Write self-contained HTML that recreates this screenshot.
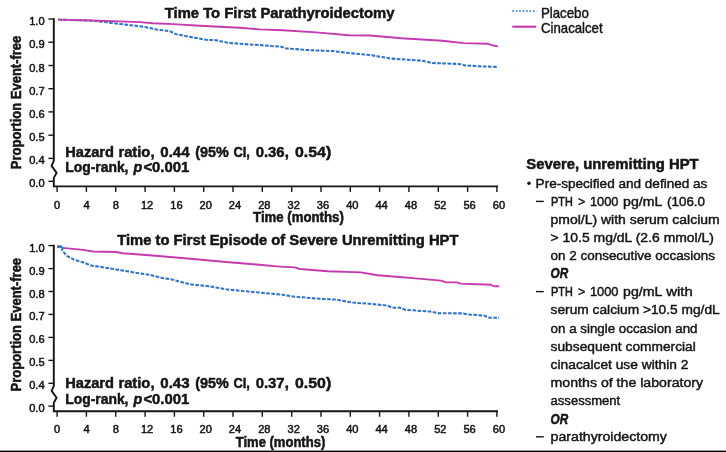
<!DOCTYPE html>
<html><head><meta charset="utf-8"><title>Kaplan-Meier</title>
<style>html,body{margin:0;padding:0;background:#fff;overflow:hidden}svg{display:block}</style>
</head><body>
<svg width="726" height="452" viewBox="0 0 726 452" style="will-change:transform">
<style>
text{font-family:"Liberation Sans",sans-serif;fill:#151515;}
.tk{font-size:11.1px;stroke:#151515;stroke-width:0.5px;}
.b{font-weight:bold;stroke:#151515;stroke-width:0.5px;}
.i{font-weight:bold;font-style:italic;stroke:#151515;stroke-width:0.55px;}
.r{font-size:13.3px;stroke:#151515;stroke-width:0.45px;}
</style>
<defs><filter id="bl" x="-2%" y="-2%" width="104%" height="104%" color-interpolation-filters="sRGB"><feGaussianBlur stdDeviation="0.45"/></filter></defs>
<rect width="726" height="452" fill="#fff"/>
<g filter="url(#bl)">
<path d="M53.8,18.2 L53.8,160.88 L51.599999999999994,165.88 L56.599999999999994,172.88 L53.8,177.88 L53.8,186.4 L498,186.4" fill="none" stroke="#151515" stroke-width="1.9" stroke-linejoin="miter"/>
<line x1="48.4" x2="53.8" y1="19.0" y2="19.0" stroke="#151515" stroke-width="1.4"/>
<text x="44.6" y="25.0" class="tk" text-anchor="end">1.0</text>
<line x1="48.4" x2="53.8" y1="42.2" y2="42.2" stroke="#151515" stroke-width="1.4"/>
<text x="44.6" y="48.2" class="tk" text-anchor="end">0.9</text>
<line x1="48.4" x2="53.8" y1="65.5" y2="65.5" stroke="#151515" stroke-width="1.4"/>
<text x="44.6" y="71.5" class="tk" text-anchor="end">0.8</text>
<line x1="48.4" x2="53.8" y1="88.7" y2="88.7" stroke="#151515" stroke-width="1.4"/>
<text x="44.6" y="94.7" class="tk" text-anchor="end">0.7</text>
<line x1="48.4" x2="53.8" y1="111.9" y2="111.9" stroke="#151515" stroke-width="1.4"/>
<text x="44.6" y="117.9" class="tk" text-anchor="end">0.6</text>
<line x1="48.4" x2="53.8" y1="135.2" y2="135.2" stroke="#151515" stroke-width="1.4"/>
<text x="44.6" y="141.2" class="tk" text-anchor="end">0.5</text>
<line x1="48.4" x2="53.8" y1="158.4" y2="158.4" stroke="#151515" stroke-width="1.4"/>
<text x="44.6" y="164.4" class="tk" text-anchor="end">0.4</text>
<line x1="48.4" x2="53.8" y1="181.3" y2="181.3" stroke="#151515" stroke-width="1.4"/>
<text x="44.6" y="187.3" class="tk" text-anchor="end">0.0</text>
<line x1="57.1" x2="57.1" y1="186.4" y2="191.9" stroke="#151515" stroke-width="1.4"/>
<text x="57.2" y="208.9" class="tk" text-anchor="middle">0</text>
<line x1="86.4" x2="86.4" y1="186.4" y2="191.9" stroke="#151515" stroke-width="1.4"/>
<text x="86.5" y="208.9" class="tk" text-anchor="middle">4</text>
<line x1="115.7" x2="115.7" y1="186.4" y2="191.9" stroke="#151515" stroke-width="1.4"/>
<text x="115.8" y="208.9" class="tk" text-anchor="middle">8</text>
<line x1="145.1" x2="145.1" y1="186.4" y2="191.9" stroke="#151515" stroke-width="1.4"/>
<text x="147.1" y="208.9" class="tk" text-anchor="middle">12</text>
<line x1="174.4" x2="174.4" y1="186.4" y2="191.9" stroke="#151515" stroke-width="1.4"/>
<text x="176.4" y="208.9" class="tk" text-anchor="middle">16</text>
<line x1="203.7" x2="203.7" y1="186.4" y2="191.9" stroke="#151515" stroke-width="1.4"/>
<text x="205.7" y="208.9" class="tk" text-anchor="middle">20</text>
<line x1="233.0" x2="233.0" y1="186.4" y2="191.9" stroke="#151515" stroke-width="1.4"/>
<text x="235.0" y="208.9" class="tk" text-anchor="middle">24</text>
<line x1="262.3" x2="262.3" y1="186.4" y2="191.9" stroke="#151515" stroke-width="1.4"/>
<text x="264.3" y="208.9" class="tk" text-anchor="middle">28</text>
<line x1="291.7" x2="291.7" y1="186.4" y2="191.9" stroke="#151515" stroke-width="1.4"/>
<text x="293.7" y="208.9" class="tk" text-anchor="middle">32</text>
<line x1="321.0" x2="321.0" y1="186.4" y2="191.9" stroke="#151515" stroke-width="1.4"/>
<text x="323.0" y="208.9" class="tk" text-anchor="middle">36</text>
<line x1="350.3" x2="350.3" y1="186.4" y2="191.9" stroke="#151515" stroke-width="1.4"/>
<text x="352.3" y="208.9" class="tk" text-anchor="middle">40</text>
<line x1="379.6" x2="379.6" y1="186.4" y2="191.9" stroke="#151515" stroke-width="1.4"/>
<text x="381.6" y="208.9" class="tk" text-anchor="middle">44</text>
<line x1="408.9" x2="408.9" y1="186.4" y2="191.9" stroke="#151515" stroke-width="1.4"/>
<text x="410.9" y="208.9" class="tk" text-anchor="middle">48</text>
<line x1="438.3" x2="438.3" y1="186.4" y2="191.9" stroke="#151515" stroke-width="1.4"/>
<text x="440.3" y="208.9" class="tk" text-anchor="middle">52</text>
<line x1="467.6" x2="467.6" y1="186.4" y2="191.9" stroke="#151515" stroke-width="1.4"/>
<text x="469.6" y="208.9" class="tk" text-anchor="middle">56</text>
<line x1="496.9" x2="496.9" y1="186.4" y2="191.9" stroke="#151515" stroke-width="1.4"/>
<text x="498.9" y="208.9" class="tk" text-anchor="middle">60</text>
<text x="253.1" y="221.8" class="b" font-size="14" textLength="90.7" lengthAdjust="spacingAndGlyphs">Time (months)</text>
<path d="M53.8,244.79999999999998 L53.8,385.79999999999995 L51.599999999999994,390.79999999999995 L56.599999999999994,397.79999999999995 L53.8,402.79999999999995 L53.8,411.2 L498,411.2" fill="none" stroke="#151515" stroke-width="1.9" stroke-linejoin="miter"/>
<line x1="48.4" x2="53.8" y1="245.6" y2="245.6" stroke="#151515" stroke-width="1.4"/>
<text x="44.6" y="251.6" class="tk" text-anchor="end">1.0</text>
<line x1="48.4" x2="53.8" y1="268.6" y2="268.6" stroke="#151515" stroke-width="1.4"/>
<text x="44.6" y="274.6" class="tk" text-anchor="end">0.9</text>
<line x1="48.4" x2="53.8" y1="291.5" y2="291.5" stroke="#151515" stroke-width="1.4"/>
<text x="44.6" y="297.5" class="tk" text-anchor="end">0.8</text>
<line x1="48.4" x2="53.8" y1="314.4" y2="314.4" stroke="#151515" stroke-width="1.4"/>
<text x="44.6" y="320.4" class="tk" text-anchor="end">0.7</text>
<line x1="48.4" x2="53.8" y1="337.4" y2="337.4" stroke="#151515" stroke-width="1.4"/>
<text x="44.6" y="343.4" class="tk" text-anchor="end">0.6</text>
<line x1="48.4" x2="53.8" y1="360.4" y2="360.4" stroke="#151515" stroke-width="1.4"/>
<text x="44.6" y="366.4" class="tk" text-anchor="end">0.5</text>
<line x1="48.4" x2="53.8" y1="383.3" y2="383.3" stroke="#151515" stroke-width="1.4"/>
<text x="44.6" y="389.3" class="tk" text-anchor="end">0.4</text>
<line x1="48.4" x2="53.8" y1="406.1" y2="406.1" stroke="#151515" stroke-width="1.4"/>
<text x="44.6" y="412.1" class="tk" text-anchor="end">0.0</text>
<line x1="57.1" x2="57.1" y1="411.2" y2="416.7" stroke="#151515" stroke-width="1.4"/>
<text x="57.2" y="433.2" class="tk" text-anchor="middle">0</text>
<line x1="86.4" x2="86.4" y1="411.2" y2="416.7" stroke="#151515" stroke-width="1.4"/>
<text x="86.5" y="433.2" class="tk" text-anchor="middle">4</text>
<line x1="115.7" x2="115.7" y1="411.2" y2="416.7" stroke="#151515" stroke-width="1.4"/>
<text x="115.8" y="433.2" class="tk" text-anchor="middle">8</text>
<line x1="145.1" x2="145.1" y1="411.2" y2="416.7" stroke="#151515" stroke-width="1.4"/>
<text x="147.1" y="433.2" class="tk" text-anchor="middle">12</text>
<line x1="174.4" x2="174.4" y1="411.2" y2="416.7" stroke="#151515" stroke-width="1.4"/>
<text x="176.4" y="433.2" class="tk" text-anchor="middle">16</text>
<line x1="203.7" x2="203.7" y1="411.2" y2="416.7" stroke="#151515" stroke-width="1.4"/>
<text x="205.7" y="433.2" class="tk" text-anchor="middle">20</text>
<line x1="233.0" x2="233.0" y1="411.2" y2="416.7" stroke="#151515" stroke-width="1.4"/>
<text x="235.0" y="433.2" class="tk" text-anchor="middle">24</text>
<line x1="262.3" x2="262.3" y1="411.2" y2="416.7" stroke="#151515" stroke-width="1.4"/>
<text x="264.3" y="433.2" class="tk" text-anchor="middle">28</text>
<line x1="291.7" x2="291.7" y1="411.2" y2="416.7" stroke="#151515" stroke-width="1.4"/>
<text x="293.7" y="433.2" class="tk" text-anchor="middle">32</text>
<line x1="321.0" x2="321.0" y1="411.2" y2="416.7" stroke="#151515" stroke-width="1.4"/>
<text x="323.0" y="433.2" class="tk" text-anchor="middle">36</text>
<line x1="350.3" x2="350.3" y1="411.2" y2="416.7" stroke="#151515" stroke-width="1.4"/>
<text x="352.3" y="433.2" class="tk" text-anchor="middle">40</text>
<line x1="379.6" x2="379.6" y1="411.2" y2="416.7" stroke="#151515" stroke-width="1.4"/>
<text x="381.6" y="433.2" class="tk" text-anchor="middle">44</text>
<line x1="408.9" x2="408.9" y1="411.2" y2="416.7" stroke="#151515" stroke-width="1.4"/>
<text x="410.9" y="433.2" class="tk" text-anchor="middle">48</text>
<line x1="438.3" x2="438.3" y1="411.2" y2="416.7" stroke="#151515" stroke-width="1.4"/>
<text x="440.3" y="433.2" class="tk" text-anchor="middle">52</text>
<line x1="467.6" x2="467.6" y1="411.2" y2="416.7" stroke="#151515" stroke-width="1.4"/>
<text x="469.6" y="433.2" class="tk" text-anchor="middle">56</text>
<line x1="496.9" x2="496.9" y1="411.2" y2="416.7" stroke="#151515" stroke-width="1.4"/>
<text x="498.9" y="433.2" class="tk" text-anchor="middle">60</text>
<text x="235.7" y="447.2" class="b" font-size="14" textLength="89.6" lengthAdjust="spacingAndGlyphs">Time (months)</text>
<path d="M58.3,19.6 L91.0,20.6 L105.0,22.1 L118.9,23.9 L132.6,25.4 L140.0,26.3 L150.0,28.0 L156.5,29.5 L169.8,31.2 L175.5,34.0 L189.6,36.8 L206.1,39.8 L216.0,40.2 L227.6,42.7 L242.5,44.0 L260.0,45.1 L281.4,46.8 L286.4,48.4 L307.9,50.1 L332.6,51.1 L349.2,53.1 L370.0,55.0 L391.0,58.6 L422.0,60.7 L432.3,63.0 L459.2,64.0 L465.4,65.5 L484.0,66.5 L498.0,66.9" fill="none" stroke="#2d73cd" stroke-width="2.05" stroke-dasharray="3.6 1.5"/>
<path d="M58.3,19.6 L91.3,20.5 L118.9,21.4 L140.0,22.1 L153.0,23.3 L173.0,24.1 L200.0,25.7 L239.2,27.7 L260.0,29.4 L283.0,30.2 L316.0,32.4 L349.0,35.2 L370.0,35.5 L401.3,38.2 L442.6,40.7 L463.3,43.1 L488.1,43.8 L494.3,45.8 L498.0,46.4" fill="none" stroke="#c63aae" stroke-width="1.9" stroke-linejoin="round"/>
<path d="M62.4,247.9 L83.0,249.9 L93.0,251.5 L116.1,252.0 L122.7,253.2 L149.2,255.2 L170.0,257.0 L193.0,259.0 L226.1,262.0 L259.2,264.8 L280.0,266.6 L294.8,267.4 L299.8,269.0 L327.9,271.2 L360.9,272.4 L377.4,275.2 L390.0,276.3 L415.8,278.4 L440.9,280.6 L446.2,282.4 L457.0,282.4 L460.6,283.6 L491.0,284.7 L493.7,286.3 L499.0,286.3" fill="none" stroke="#c63aae" stroke-width="1.9" stroke-linejoin="round"/>
<path d="M57.4,246.6 L61.9,246.6 L62.4,250.7 L66.5,255.7 L74.8,260.1 L83.0,262.3 L91.3,265.6 L99.6,266.7 L116.1,269.4 L132.6,272.2 L149.2,274.7 L162.4,278.1 L171.6,279.4 L189.8,284.3 L209.6,286.3 L226.1,289.3 L242.6,291.0 L259.2,292.6 L281.6,294.6 L294.8,296.7 L319.6,298.8 L336.1,299.6 L352.6,302.6 L369.2,303.8 L387.2,305.5 L392.5,307.8 L399.7,307.6 L405.0,309.8 L430.1,311.6 L439.0,313.2 L462.4,313.4 L469.5,314.6 L483.9,315.5 L489.2,317.7 L499.0,317.7" fill="none" stroke="#2d73cd" stroke-width="2.05" stroke-dasharray="3.6 1.5"/>
<path d="M57.0,246.7 L62.3,246.7" fill="none" stroke="#2d73cd" stroke-width="2.3"/>
<text x="164.8" y="17.6" class="b" font-size="14.8" textLength="229.6" lengthAdjust="spacingAndGlyphs">Time To First Parathyroidectomy</text>
<text x="117.2" y="244.6" class="b" font-size="14.8" textLength="341.3" lengthAdjust="spacingAndGlyphs">Time to First Episode of Severe Unremitting HPT</text>
<text transform="translate(21.3,169.2) rotate(-90)" class="b" font-size="14" textLength="133.5" lengthAdjust="spacingAndGlyphs">Proportion Event-free</text>
<text transform="translate(21.3,391.4) rotate(-90)" class="b" font-size="14" textLength="133.5" lengthAdjust="spacingAndGlyphs">Proportion Event-free</text>
<text x="65.2" y="157.1" class="b" font-size="15.5" textLength="48.8" lengthAdjust="spacingAndGlyphs">Hazard</text>
<text x="118.4" y="157.1" class="b" font-size="15.5" textLength="36.1" lengthAdjust="spacingAndGlyphs">ratio,</text>
<text x="160.3" y="157.1" class="b" font-size="15.5" textLength="29.3" lengthAdjust="spacingAndGlyphs">0.44</text>
<text x="195.2" y="157.1" class="b" font-size="15.5" textLength="33.6" lengthAdjust="spacingAndGlyphs">(95%</text>
<text x="233.4" y="157.1" class="b" font-size="15.5" textLength="16.5" lengthAdjust="spacingAndGlyphs">CI,</text>
<text x="255.7" y="157.1" class="b" font-size="15.5" textLength="33.1" lengthAdjust="spacingAndGlyphs">0.36,</text>
<text x="295.0" y="157.1" class="b" font-size="15.5" textLength="36.2" lengthAdjust="spacingAndGlyphs">0.54)</text>
<text x="65.2" y="172.4" class="b" font-size="15.5" textLength="63.3" lengthAdjust="spacingAndGlyphs">Log-rank,</text>
<text x="133.6" y="172.4" class="i" font-size="15.5" textLength="8.7" lengthAdjust="spacingAndGlyphs">p</text>
<text x="143.4" y="172.4" class="b" font-size="15.5" textLength="45.9" lengthAdjust="spacingAndGlyphs">&lt;0.001</text>
<text x="65.2" y="388.2" class="b" font-size="15.5" textLength="48.8" lengthAdjust="spacingAndGlyphs">Hazard</text>
<text x="118.4" y="388.2" class="b" font-size="15.5" textLength="36.1" lengthAdjust="spacingAndGlyphs">ratio,</text>
<text x="160.3" y="388.2" class="b" font-size="15.5" textLength="29.3" lengthAdjust="spacingAndGlyphs">0.43</text>
<text x="195.2" y="388.2" class="b" font-size="15.5" textLength="33.6" lengthAdjust="spacingAndGlyphs">(95%</text>
<text x="233.4" y="388.2" class="b" font-size="15.5" textLength="16.5" lengthAdjust="spacingAndGlyphs">CI,</text>
<text x="255.7" y="388.2" class="b" font-size="15.5" textLength="33.1" lengthAdjust="spacingAndGlyphs">0.37,</text>
<text x="295.0" y="388.2" class="b" font-size="15.5" textLength="36.2" lengthAdjust="spacingAndGlyphs">0.50)</text>
<text x="65.2" y="404.0" class="b" font-size="15.5" textLength="63.3" lengthAdjust="spacingAndGlyphs">Log-rank,</text>
<text x="133.6" y="404.0" class="i" font-size="15.5" textLength="8.7" lengthAdjust="spacingAndGlyphs">p</text>
<text x="143.4" y="404.0" class="b" font-size="15.5" textLength="45.9" lengthAdjust="spacingAndGlyphs">&lt;0.001</text>
<line x1="512.3" x2="536.7" y1="11.2" y2="11.2" stroke="#2d73cd" stroke-width="1.7" opacity="0.85" stroke-dasharray="1.7 1.75"/>
<line x1="512.3" x2="536.2" y1="26.7" y2="26.7" stroke="#c63aae" stroke-width="2.1"/>
<text x="541.0" y="17.5" class="r" style="font-size:15px" textLength="47.8" lengthAdjust="spacingAndGlyphs">Placebo</text>
<text x="541.0" y="33.1" class="r" style="font-size:15px" textLength="61.6" lengthAdjust="spacingAndGlyphs">Cinacalcet</text>
<text x="526.3" y="169.4" class="b" font-size="14.8" textLength="172.3" lengthAdjust="spacingAndGlyphs">Severe, unremitting HPT</text>
<circle cx="529" cy="183.3" r="1.7" fill="#151515"/>
<text x="535.6" y="187.6" class="r" textLength="171.8" lengthAdjust="spacingAndGlyphs">Pre-specified and defined as</text>
<text x="551.1" y="205.9" class="r" style="stroke-width:0.65px" textLength="21.6" lengthAdjust="spacingAndGlyphs">PTH</text>
<text x="578.1" y="205.9" class="r" textLength="7.3" lengthAdjust="spacingAndGlyphs">&gt;</text>
<text x="589.9" y="205.9" class="r" textLength="28.6" lengthAdjust="spacingAndGlyphs">1000</text>
<text x="623.1" y="205.9" class="r" textLength="39.2" lengthAdjust="spacingAndGlyphs">pg/mL</text>
<text x="667.1" y="205.9" class="r" textLength="37.9" lengthAdjust="spacingAndGlyphs">(106.0</text>
<line x1="536.0" x2="543.8" y1="201.4" y2="201.4" stroke="#151515" stroke-width="1.4"/>
<text x="550.6" y="224.2" class="r" textLength="169.1" lengthAdjust="spacingAndGlyphs">pmol/L) with serum calcium</text>
<text x="550.6" y="242.2" class="r" textLength="163.4" lengthAdjust="spacingAndGlyphs">&gt; 10.5 mg/dL (2.6 mmol/L)</text>
<text x="550.6" y="260.2" class="r" textLength="164.4" lengthAdjust="spacingAndGlyphs">on 2 consecutive occasions</text>
<text x="550.6" y="278.2" class="i" font-size="13.8" textLength="17.6" lengthAdjust="spacingAndGlyphs">OR</text>
<text x="551.1" y="296.1" class="r" style="stroke-width:0.65px" textLength="21.6" lengthAdjust="spacingAndGlyphs">PTH</text>
<text x="578.1" y="296.1" class="r" textLength="7.3" lengthAdjust="spacingAndGlyphs">&gt;</text>
<text x="589.9" y="296.1" class="r" textLength="28.6" lengthAdjust="spacingAndGlyphs">1000</text>
<text x="623.1" y="296.1" class="r" textLength="39.2" lengthAdjust="spacingAndGlyphs">pg/mL</text>
<text x="666.3" y="296.1" class="r" textLength="26.5" lengthAdjust="spacingAndGlyphs">with</text>
<line x1="536.0" x2="543.8" y1="291.6" y2="291.6" stroke="#151515" stroke-width="1.4"/>
<text x="550.6" y="314.2" class="r" textLength="169.1" lengthAdjust="spacingAndGlyphs">serum calcium &gt;10.5 mg/dL</text>
<text x="550.6" y="333.0" class="r" textLength="146.9" lengthAdjust="spacingAndGlyphs">on a single occasion and</text>
<text x="550.6" y="351.1" class="r" textLength="145.2" lengthAdjust="spacingAndGlyphs">subsequent commercial</text>
<text x="550.6" y="369.1" class="r" textLength="137.9" lengthAdjust="spacingAndGlyphs">cinacalcet use within 2</text>
<text x="550.6" y="387.2" class="r" textLength="152.5" lengthAdjust="spacingAndGlyphs">months of the laboratory</text>
<text x="550.6" y="405.3" class="r" textLength="69.6" lengthAdjust="spacingAndGlyphs">assessment</text>
<text x="550.6" y="423.5" class="i" font-size="13.8" textLength="17.6" lengthAdjust="spacingAndGlyphs">OR</text>
<text x="550.6" y="441.3" class="r" textLength="116.3" lengthAdjust="spacingAndGlyphs">parathyroidectomy</text>
<line x1="536.0" x2="543.8" y1="436.8" y2="436.8" stroke="#151515" stroke-width="1.4"/>
</g>
<rect x="0" y="450.6" width="726" height="1.4" fill="#000"/>
</svg>
</body></html>
